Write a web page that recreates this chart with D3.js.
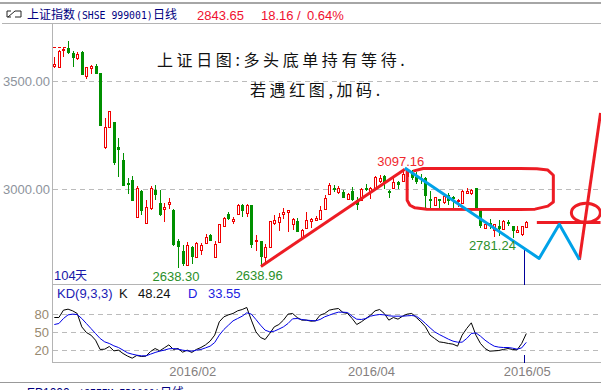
<!DOCTYPE html>
<html>
<head>
<meta charset="utf-8">
<script src="https://cdn.jsdelivr.net/npm/d3@7/dist/d3.min.js"></script>
<style>
  html, body { margin: 0; padding: 0; background: #fff; overflow: hidden; }
  svg { display: block; }
  text { font-family: "Liberation Sans", sans-serif; }
  .cjk { font-family: "Noto Sans CJK SC", sans-serif; }
</style>
</head>
<body>
<div id="chart"></div>
<script>
const w = 601, h = 390;

// candles, index 0 to 103
const open = [3572,3567,3644,3654,3632,3610,3635,3527,3564,3570,3539,3198,3290,3311,3196,3136,3029,3043,2873,2992,
  2845,2915,2997,2936,2910,2933,2907,2760,2714,2652,2732,2687,2722,2754,2788,2687,2759,2831,2885,2856,
  2887,2927,2891,2927,2762,2760,2687,2734,2845,2850,2887,2896,2840,2853,2777,2824,2854,2858,2865,2910,
  2977,3006,2989,2987,2954,2991,2950,2950,3009,2994,3003,3038,3062,2994,3009,3034,3040,3062,3076,3057,
  3054,3054,2955,2930,2955,2942,2974,2963,2946,2938,2986,2983,3005,2904,2822,2847,2811,2830,2816,2850,
  2830,2803,2793,2827];
const close = [3580,3641,3651,3634,3610,3626,3532,3566,3572,3536,3295,3288,3362,3123,3184,3017,3021,2947,3009,2901,
  2917,3009,2975,2881,2918,2941,2745,2734,2654,2742,2687,2751,2742,2782,2762,2750,2838,2870,2864,2862,
  2930,2901,2930,2743,2768,2687,2736,2853,2861,2875,2898,2903,2865,2803,2811,2861,2865,2870,2907,2960,
  3020,2998,3009,2960,2981,2950,2926,3001,3000,3009,3057,3052,3028,2986,3035,3023,3071,3090,3052,3034,
  3043,2969,2947,2963,2950,2968,2949,2955,2952,2995,2994,3000,2912,2830,2838,2838,2838,2819,2853,2842,
  2807,2811,2830,2848];
const high = [3612,3646,3660,3688,3641,3635,3641,3567,3576,3581,3539,3329,3363,3312,3238,3167,3052,3062,3015,2997,
  2950,3015,3020,3000,2936,2960,2912,2773,2742,2759,2737,2759,2751,2796,2793,2763,2840,2872,2895,2875,
  2935,2935,2932,2927,2788,2760,2746,2856,2881,2889,2913,2903,2867,2867,2816,2895,2867,2878,2924,2975,
  3029,3020,3015,3000,2983,3011,2963,3005,3025,3011,3062,3065,3068,2997,3052,3038,3090,3097.16,3090,3080,
  3071,3057,2992,2964,2955,2974,2983,2969,2958,3000,3005,3001,3006,2913,2842,2862,2842,2858,2858,2861,
  2830,2830,2830,2854];
const low = [3561,3565,3615,3628,3567,3601,3532,3513,3536,3535,3295,3188,3286,3113,3058,3017,2980,2947,2868,2882,
  2845,2905,2950,2876,2848,2910,2740,2638.30,2644,2649,2654,2687,2695,2754,2762,2685,2759,2827,2858,2839,
  2882,2873,2872,2729,2714,2638.96,2658,2734,2834,2807,2865,2801,2811,2803,2774,2821,2824,2854,2861,2910,
  2974,2987,2981,2960,2950,2947,2904,2950,2991,2955,3001,3028,3001,2961,3005,3003,3038,3057,3043,3025,
  3025,2912,2913,2927,2913,2932,2927,2913,2918,2936,2977,2974,2912,2821,2821,2819,2781.24,2785,2816,2830,
  2776,2803,2783,2825];

// KD(9,3,3)
const kValues = [75,75,87.2,88.9,86.1,81.7,59.4,50,45.6,37.2,21.7,22.2,26.7,19.4,20.6,15,10.6,7.2,11.7,10,
  10.6,18.3,23.3,19.4,24.4,29.4,21.7,23.3,17.2,20.6,16.7,21.7,25,29.4,35.6,45.6,67.8,76.1,79.4,81.7,
  86.1,88.3,91.7,70.6,51.1,41.7,38.3,48.3,59.4,63.3,70.6,80.6,81.7,75,
  70.6,70.6,68.9,69.4,78.9,81.7,87.2,88.9,90,83.3,81.7,73.3,63.3,67.8,73.3,78.9,86.1,88.3,81.7,70.6,
  75,72.2,77.2,80.6,81.7,75,67.8,59.4,45.6,40,34.4,33.3,31.7,30.6,27.2,45.6,56.7,66.1,45.6,31.7,
  23.3,18.9,19.4,20,21.7,23.3,21.7,21.1,31.7,48.24];
const dValues = [63.3,65,73.3,79.4,80.6,80,73.3,65,56.7,48.3,40,34.4,31.7,27.8,25,20.6,16.1,13.9,12.2,11.1,
  11.1,13.9,16.7,18.9,20.6,22.8,23.3,22.2,20.6,19.4,18.9,20.6,21.7,24.4,27.2,33.3,45.6,55,62.2,69.4,
  73.3,77.2,82.8,80.6,71.7,62.2,53.9,51.1,52.2,55.6,59.4,65,72.8,73.3,
  71.7,70.6,70,69.4,71.7,76.1,78.9,81.7,83.9,83.9,83.3,77.2,72.2,71.7,73.3,77.2,78.9,80,79.4,77.8,
  77.2,77.2,77.2,77.8,78.3,77.2,71.7,65,57.8,51.1,46.7,42.8,38.9,35.6,33.9,33.9,40,48.3,49.4,43.9,
  37.2,31.7,27.2,25.6,25,25,23.9,22.2,24.4,33.55];

const priceTicks = [3000, 3500];
const kdTicks = [20, 50, 80];
const dateTickIndex = [30, 69, 103];
const dateTickLabels = ['2016/02', '2016/04', '2016/05'];
const peakMark = 3660;

// text labels on the price panel: candle index, price, text
const lowLabels = [[26.55, 2638.30, '2638.30'], [44.7, 2638.96, '2638.96'], [95.6, 2781.24, '2781.24']];
const highLabels = [[75.6, 3097.16, '3097.16']];

// hand drawn lines, as [candle index, price]
const redTrend = [[45.1, 2644], [76.5, 3094]];
const blueZigzag = [[76.5, 3099], [105.8, 2681], [110.2, 2839], [114.6, 2675]];
const redRise = [[114.6, 2675], [119.2, 3354]];
const redLevel = [[105.3, 2847], [119.2, 2847]];
const redBox = [[77, 3094], [77, 2950], [77.6, 2927], [78.7, 2915], [81.3, 2909], [101.6, 2907], [104.9, 2909],
  [107.7, 2923], [108.9, 2942], [108.9, 3066], [107.7, 3090], [105.3, 3096], [101.6, 3097], [80.5, 3097], [78.3, 3085]];
const redCircle = [116, 2892];

const svg = d3.select('#chart').append('svg')
  .attr('width', w)
  .attr('height', h)
  .attr('viewBox', `0 0 ${w} ${h}`);

const xScale = d3.scaleLinear().domain([0, 103]).range([54.3, 526.3]);
const yPrice = d3.scaleLinear().domain([3000, 3500]).range([189.5, 81.5]);
const yKd = d3.scaleLinear().domain([20, 80]).range([350.5, 314.5]);

// frame
const frame = [[0, 601, 3, 2, '#a6a6a6'], [2, 601, 23.5, 1, '#b4b4b4'], [52, 601, 284.5, 1, '#b4b4b4'],
  [52, 601, 362.5, 1, '#b4b4b4'], [0, 601, 382.5, 1, '#999']];
svg.selectAll('line.frame').data(frame).enter().append('line')
  .attr('class', 'frame')
  .attr('x1', d => d[0]).attr('x2', d => d[1])
  .attr('y1', d => d[2]).attr('y2', d => d[2])
  .attr('stroke', d => d[4]).attr('stroke-width', d => d[3]);
svg.append('line').attr('x1', 52.5).attr('x2', 52.5).attr('y1', 24).attr('y2', 363).attr('stroke', '#b4b4b4');

// axes
const styleAxis = (g, color) => {
  g.select('.domain').remove();
  g.selectAll('.tick line').attr('stroke', '#bbb').attr('stroke-dasharray', '5,4');
  g.selectAll('.tick text').attr('fill', color).attr('font-size', 13)
    .style('font-family', '"Liberation Sans", sans-serif');
};

svg.append('g')
  .attr('transform', 'translate(53, 0)')
  .call(d3.axisLeft(yPrice).tickValues(priceTicks).tickFormat(d3.format('.2f')).tickSize(-548).tickPadding(3).offset(0))
  .call(styleAxis, '#8d939c');

svg.append('g')
  .attr('transform', 'translate(53, 0)')
  .call(d3.axisLeft(yKd).tickValues(kdTicks).tickSize(-548).tickPadding(4).offset(0))
  .call(styleAxis, '#97896f');

const dateAxis = svg.append('g')
  .attr('transform', 'translate(1, 363)')
  .call(d3.axisBottom(xScale).tickValues(dateTickIndex)
    .tickFormat((d, i) => dateTickLabels[i]).tickSize(0).tickPadding(4).offset(0));
dateAxis.select('.domain').remove();
dateAxis.selectAll('text').attr('fill', '#857f80').attr('font-size', 13)
  .style('font-family', '"Liberation Sans", sans-serif');

// candles
const candleX = i => Math.round(xScale(i)) + 0.5;
const candles = svg.append('g').selectAll('g').data(d3.range(open.length)).enter().append('g');

candles.append('line')
  .attr('x1', candleX).attr('x2', candleX)
  .attr('y1', i => Math.round(yPrice(high[i])))
  .attr('y2', i => Math.round(yPrice(low[i])))
  .attr('stroke', i => close[i] > open[i] ? '#f00000' : '#009000');

candles.filter(i => close[i] <= open[i]).append('rect')
  .attr('x', i => candleX(i) - 1.5)
  .attr('width', 3)
  .attr('y', i => Math.round(yPrice(open[i])))
  .attr('height', i => Math.max(2, Math.round(yPrice(close[i])) - Math.round(yPrice(open[i]))))
  .attr('fill', '#009000');

candles.filter(i => close[i] > open[i]).append('rect')
  .attr('x', i => candleX(i) - 1)
  .attr('width', 2)
  .attr('y', i => Math.round(yPrice(close[i])) + 0.5)
  .attr('height', i => Math.max(1, Math.round(yPrice(open[i])) - Math.round(yPrice(close[i]))))
  .attr('fill', '#fff')
  .attr('stroke', '#f00000');

// dashed mark at the top left
svg.append('line')
  .attr('x1', 53).attr('x2', xScale(3))
  .attr('y1', Math.round(yPrice(peakMark)) + 0.5).attr('y2', Math.round(yPrice(peakMark)) + 0.5)
  .attr('stroke', '#f00000').attr('stroke-dasharray', '3,2');

// cursor
const cursorX = Math.round(xScale(102.5)) + 0.5;
svg.append('line').attr('x1', cursorX).attr('x2', cursorX).attr('y1', 250).attr('y2', 285).attr('stroke', '#00009a');
svg.append('line').attr('x1', cursorX).attr('x2', cursorX).attr('y1', 355).attr('y2', 363).attr('stroke', '#00009a');

// KD lines
const kdLine = d3.line().x((d, i) => xScale(i)).y(d => yKd(d));
svg.append('path').datum(kValues).attr('d', kdLine).attr('fill', 'none').attr('stroke', '#000');
svg.append('path').datum(dValues).attr('d', kdLine).attr('fill', 'none').attr('stroke', '#0000e6');

// hand drawn marks
const drawn = d3.line().x(d => xScale(d[0])).y(d => yPrice(d[1]));
const addDrawn = (pts, color) => svg.append('path').datum(pts).attr('d', drawn)
  .attr('fill', 'none').attr('stroke', color).attr('stroke-width', 3).attr('stroke-linejoin', 'round');

addDrawn(redBox, '#ed1c24');
addDrawn(redTrend, '#ed1c24');
addDrawn(redLevel, '#ed1c24');
addDrawn(redRise, '#ed1c24');
addDrawn(blueZigzag, '#00a2e8');
svg.append('ellipse')
  .attr('cx', xScale(redCircle[0])).attr('cy', yPrice(redCircle[1]))
  .attr('rx', 14.5).attr('ry', 9.5)
  .attr('fill', 'none').attr('stroke', '#ed1c24').attr('stroke-width', 3);

// labels on the price panel
const addText = (x, y, s, color, size, cls) => svg.append('text')
  .attr('x', x).attr('y', y).attr('fill', color).attr('font-size', size)
  .attr('class', cls || null).text(s);

svg.selectAll('text.low').data(lowLabels).enter().append('text')
  .attr('class', 'low')
  .attr('x', d => xScale(d[0])).attr('y', d => yPrice(d[1]) + 13)
  .attr('text-anchor', 'middle').attr('font-size', 13).attr('fill', '#2a8f2a')
  .text(d => d[2]);
svg.selectAll('text.hi').data(highLabels).enter().append('text')
  .attr('class', 'hi')
  .attr('x', d => xScale(d[0])).attr('y', d => yPrice(d[1]) - 3)
  .attr('text-anchor', 'middle').attr('font-size', 13).attr('fill', '#f0282d')
  .text(d => d[2]);

addText(54, 280, '104', '#1818a8', 13);
addText(75, 280, '天', '#1818a8', 12, 'cjk');

// header
svg.append('path')
  .attr('d', 'M11 11H7V17H11M8 17L15 11M15 11H21V17H15')
  .attr('fill', 'none').attr('stroke', '#222').attr('stroke-width', 1);
addText(27, 19, '上证指数', '#00007f', 12, 'cjk');
addText(76, 19, '(SHSE 999001)', '#00007f', 9.8).style('font-family', '"DejaVu Sans Mono", monospace');
addText(153, 19, '日线', '#00007f', 12, 'cjk');
addText(197, 20, '2843.65', '#f01030', 13);
addText(261, 20, '18.16', '#f01030', 13);
addText(297, 20, '/', '#f01030', 13);
addText(307, 20, '0.64%', '#f01030', 13);

// note on the chart
addText(157, 66, '上证日图:多头底单持有等待.', '#111', 16, 'cjk').attr('letter-spacing', 3.6);
addText(250, 96, '若遇红图,加码.', '#111', 16, 'cjk').attr('letter-spacing', 3.6);

// KD legend
addText(57, 298, 'KD(9,3,3)', '#2020b4', 13);
addText(119, 298, 'K', '#111', 13);
addText(138, 298, '48.24', '#111', 13);
addText(188, 298, 'D', '#2020e0', 13);
addText(208, 298, '33.55', '#2020e0', 13);

// next panel, cut off by the window as in the reference
addText(27, 397, 'EP1000', '#00007f', 12);
addText(78, 397, '(SFFFM EP1000)', '#00007f', 9.8).style('font-family', '"DejaVu Sans Mono", monospace');
addText(160, 397, '日线', '#00007f', 12, 'cjk');
</script>
</body>
</html>
